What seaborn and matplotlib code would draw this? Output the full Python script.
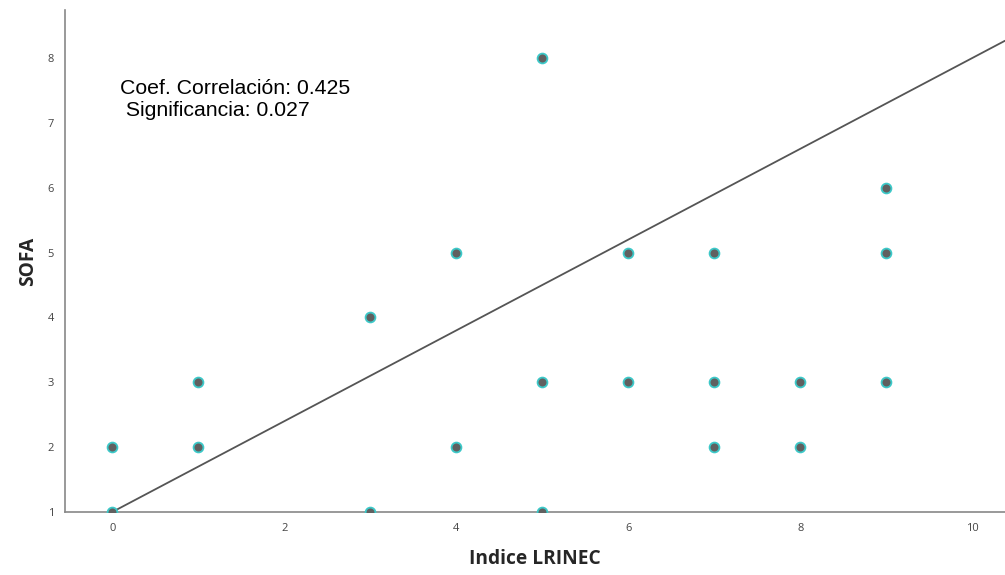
import matplotlib.pyplot as plt
import seaborn as sns
import pandas as pd

# Data
lrinec = [0, 0, 1, 1, 3, 3, 4, 4, 5, 5, 5, 6, 6, 7, 7, 7, 8, 8, 9, 9, 9]
sofa = [1, 2, 2, 3, 4, 1, 5, 2, 8, 3, 1, 5, 3, 5, 3, 2, 3, 2, 6, 5, 3]

# Fitted line shown in the chart
line_intercept = 1.0
line_slope = 0.70

x_ticks = [0, 2, 4, 6, 8, 10]
y_ticks = [1, 2, 3, 4, 5, 6, 7, 8]

annot_text = "Coef. Correlación: 0.425\n Significancia: 0.027"

df = pd.DataFrame({'LRINEC': lrinec, 'SOFA': sofa})

sns.set_style('white')
plt.rcParams['font.family'] = ['Liberation Sans', 'DejaVu Sans']

fig = plt.figure(figsize=(10.05, 5.75), dpi=100)
ax = fig.add_axes([0.0647, 0.1096, 0.9353, 0.873])

sns.scatterplot(data=df, x='LRINEC', y='SOFA', ax=ax, s=50,
                color='#606060', edgecolor='#3cc8c8', linewidth=1.3, zorder=3)

# Regression line
ax.axline((0, line_intercept), slope=line_slope, color='#555555',
          linewidth=1.3, zorder=2)

ax.set_xlim(-0.55, 10.38)
ax.set_ylim(1, 8.74)
ax.set_xticks(x_ticks)
ax.set_yticks(y_ticks)
ax.tick_params(axis='both', length=0, labelsize=8, labelcolor='#444444',
               pad=8)
for lab in ax.get_xticklabels() + ax.get_yticklabels():
    lab.set_fontfamily('Open Sans')

sns.despine(ax=ax)
for side in ['left', 'bottom']:
    ax.spines[side].set_color('#888888')
    ax.spines[side].set_linewidth(1.2)

ax.set_xlabel('Indice LRINEC', fontsize=13.8, fontweight='bold',
              fontfamily='Open Sans', labelpad=11)
ax.set_ylabel('SOFA', fontsize=13.8, fontweight='bold',
              fontfamily='Open Sans', labelpad=7)

ax.text(0.09, 7.67, annot_text, fontsize=15.3, color='black', va='top',
        ha='left', linespacing=1.15)

plt.savefig('out.png', dpi=100)
plt.close()
